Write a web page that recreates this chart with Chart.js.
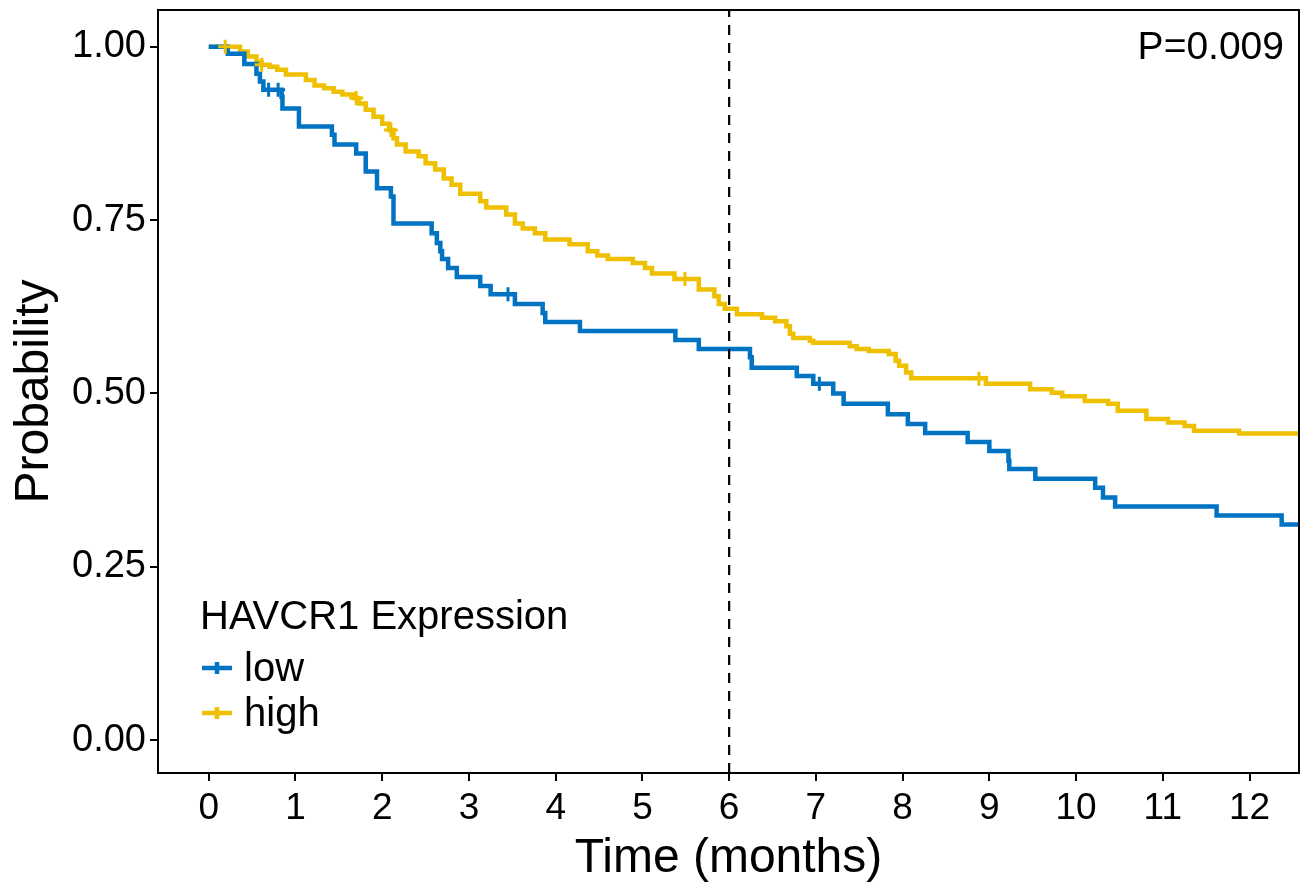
<!DOCTYPE html>
<html>
<head>
<meta charset="utf-8">
<script src="https://cdn.jsdelivr.net/npm/chart.js@4"></script>
<style>
  html, body { margin: 0; padding: 0; background: #fff; overflow: hidden; }
  canvas { display: block; }
</style>
</head>
<body>
<canvas id="km" width="1309" height="891"></canvas>
<script>
// survival steps (time in months, probability after the drop)
const lowTime = [0, 0.22, 0.41, 0.55, 0.59, 0.63, 0.84, 0.85, 1.04, 1.42, 1.45, 1.70, 1.81, 1.94, 2.10, 2.13, 2.57, 2.63, 2.67, 2.69, 2.76, 2.86, 3.13, 3.25, 3.53, 3.85, 3.88, 4.28, 5.38, 5.65, 6.24, 6.26, 6.78, 6.97, 7.20, 7.32, 7.83, 8.06, 8.26, 8.75, 9.00, 9.22, 9.23, 9.53, 10.22, 10.31, 10.45, 11.62, 12.37];
const lowSurv = [1.00, 0.99, 0.975, 0.961, 0.95, 0.938, 0.928, 0.911, 0.885, 0.873, 0.859, 0.846, 0.82, 0.796, 0.784, 0.745, 0.731, 0.717, 0.705, 0.694, 0.681, 0.668, 0.655, 0.643, 0.629, 0.616, 0.603, 0.590, 0.577, 0.564, 0.552, 0.537, 0.525, 0.514, 0.500, 0.485, 0.470, 0.456, 0.443, 0.430, 0.417, 0.403, 0.391, 0.377, 0.364, 0.350, 0.337, 0.324, 0.311];
const lowCensorTime = [0.69, 0.80, 3.45, 7.04];
const lowCensorSurv = [0.938, 0.938, 0.643, 0.514];

const highTime = [0, 0.36, 0.45, 0.55, 0.61, 0.70, 0.79, 0.89, 1.12, 1.22, 1.33, 1.44, 1.54, 1.67, 1.73, 1.81, 1.90, 2.00, 2.08, 2.13, 2.17, 2.27, 2.42, 2.50, 2.61, 2.71, 2.80, 2.90, 3.13, 3.20, 3.43, 3.53, 3.62, 3.76, 3.88, 4.16, 4.37, 4.48, 4.60, 4.89, 5.03, 5.11, 5.37, 5.65, 5.83, 5.88, 5.95, 6.09, 6.38, 6.53, 6.66, 6.70, 6.74, 6.93, 6.97, 7.39, 7.47, 7.61, 7.84, 7.92, 7.96, 8.04, 8.10, 8.96, 9.47, 9.72, 9.84, 10.10, 10.37, 10.48, 10.81, 11.06, 11.25, 11.36, 11.88];
const highSurv = [1.00, 0.993, 0.986, 0.978, 0.974, 0.971, 0.967, 0.960, 0.952, 0.944, 0.940, 0.935, 0.931, 0.926, 0.918, 0.909, 0.899, 0.889, 0.880, 0.868, 0.859, 0.849, 0.842, 0.832, 0.823, 0.810, 0.801, 0.788, 0.777, 0.768, 0.758, 0.745, 0.738, 0.731, 0.722, 0.715, 0.705, 0.699, 0.694, 0.688, 0.681, 0.673, 0.665, 0.650, 0.640, 0.629, 0.622, 0.614, 0.609, 0.604, 0.597, 0.586, 0.580, 0.576, 0.573, 0.568, 0.564, 0.561, 0.557, 0.547, 0.540, 0.530, 0.522, 0.514, 0.506, 0.501, 0.496, 0.489, 0.485, 0.475, 0.463, 0.458, 0.453, 0.446, 0.442];
const highCensorTime = [0.19, 0.61, 1.70, 2.10, 5.49, 8.88];
const highCensorSurv = [1.00, 0.974, 0.926, 0.880, 0.665, 0.521];

const xTicks = [0, 1, 2, 3, 4, 5, 6, 7, 8, 9, 10, 11, 12];
const yTicks = [0, 0.25, 0.5, 0.75, 1];
const cutoff = 6;
const pText = 'P=0.009';
const legendTitle = 'HAVCR1 Expression';

const xMin = -0.585, xMax = 12.57;
const yMin = -0.0475, yMax = 1.053;
const blue = '#0073C2', gold = '#EFC000';
const FONT = '"Liberation Sans", Arial, sans-serif';

function steps(t, s) {
  const pts = t.map((v, i) => ({x: v, y: s[i]}));
  pts.push({x: xMax, y: s[s.length - 1]});
  return pts;
}
function marks(t, s) {
  return t.map((v, i) => ({x: v, y: s[i]}));
}

const extras = {
  id: 'extras',
  afterDraw(chart) {
    const {ctx, chartArea: a} = chart;
    ctx.save();
    ctx.strokeStyle = '#000';
    ctx.lineWidth = 2;
    ctx.strokeRect(a.left, a.top, a.right - a.left, a.bottom - a.top);

    ctx.fillStyle = '#000';
    ctx.font = '39px ' + FONT;
    ctx.textAlign = 'right';
    ctx.textBaseline = 'alphabetic';
    ctx.fillText(pText, a.right - 15, 59);

    // legend
    ctx.textAlign = 'left';
    ctx.font = '40px ' + FONT;
    ctx.fillText(legendTitle, 200, 629);
    const entries = [chart.data.datasets[0], chart.data.datasets[1]];
    entries.forEach((ds, i) => {
      const y = 668 + i * 45;
      ctx.strokeStyle = ds.borderColor;
      ctx.lineWidth = 4.5;
      ctx.beginPath();
      ctx.moveTo(202, y); ctx.lineTo(232, y);
      ctx.moveTo(217, y - 6); ctx.lineTo(217, y + 6);
      ctx.stroke();
      ctx.fillStyle = '#000';
      ctx.fillText(ds.label, 244, y + 13);
    });
    ctx.restore();
  }
};

new Chart(document.getElementById('km'), {
  type: 'line',
  data: {
    datasets: [
      {label: 'low', data: steps(lowTime, lowSurv), borderColor: blue, borderWidth: 4.5,
        stepped: 'before', pointRadius: 0, fill: false, order: 1},
      {label: 'high', data: steps(highTime, highSurv), borderColor: gold, borderWidth: 4.5,
        stepped: 'before', pointRadius: 0, fill: false, order: 2},
      {label: 'low censored', type: 'scatter', data: marks(lowCensorTime, lowCensorSurv),
        pointStyle: 'cross', pointRadius: 7, borderColor: blue, borderWidth: 3, showLine: false},
      {label: 'high censored', type: 'scatter', data: marks(highCensorTime, highCensorSurv),
        pointStyle: 'cross', pointRadius: 7, borderColor: gold, borderWidth: 3, showLine: false},
      {label: 'cutoff', data: [{x: cutoff, y: yMin}, {x: cutoff, y: yMax}], borderColor: '#000',
        borderWidth: 2.2, borderDash: [10, 8], pointRadius: 0, fill: false}
    ]
  },
  options: {
    responsive: false,
    animation: false,
    layout: {padding: {top: 8, right: 4, left: 0, bottom: 0}},
    plugins: {legend: {display: false}, tooltip: {enabled: false}},
    scales: {
      x: {
        type: 'linear', min: xMin, max: xMax,
        afterBuildTicks: s => { s.ticks = xTicks.map(v => ({value: v})); },
        afterFit: s => { s.height = 118; s.paddingLeft = 0; s.paddingRight = 0; },
        grid: {drawOnChartArea: false, drawTicks: true, tickLength: 8, color: '#000', lineWidth: 2},
        border: {display: true, color: '#000', width: 2},
        ticks: {color: '#000', font: {family: FONT, size: 37}, padding: 6, maxRotation: 0,
          callback: v => String(v)},
        title: {display: true, text: 'Time (months)', color: '#000',
          font: {family: FONT, size: 48}, padding: {top: 0, bottom: 3}}
      },
      y: {
        type: 'linear', min: yMin, max: yMax,
        afterBuildTicks: s => { s.ticks = yTicks.map(v => ({value: v})); },
        afterFit: s => { s.width = 158; s.paddingTop = 0; s.paddingBottom = 0; },
        grid: {drawOnChartArea: false, drawTicks: true, tickLength: 8, color: '#000', lineWidth: 2},
        border: {display: true, color: '#000', width: 2},
        ticks: {color: '#000', font: {family: FONT, size: 38}, padding: 4,
          callback: v => Number(v).toFixed(2)},
        title: {display: true, text: 'Probability', color: '#000',
          font: {family: FONT, size: 48}, padding: {top: 6, bottom: 0}}
      }
    }
  },
  plugins: [extras]
});
</script>
</body>
</html>
